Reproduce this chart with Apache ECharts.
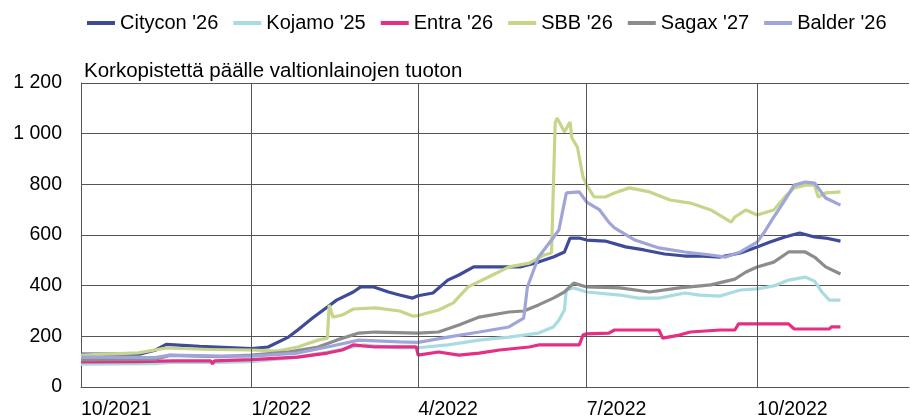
<!DOCTYPE html>
<html>
<head>
<meta charset="utf-8">
<script src="https://cdn.jsdelivr.net/npm/echarts@6/dist/echarts.min.js"></script>
<style>
html, body { margin: 0; padding: 0; background: #fff; }
#mycharts { width: 910px; height: 420px; }
</style>
</head>
<body>
<div id="mycharts"></div>
<script>
var seriesNames = ["Citycon '26", "Kojamo '25", "Entra '26", "SBB '26", "Sagax '27", "Balder '26"];
var seriesColors = ["#3F4A9B", "#A9DCE2", "#E62F84", "#C6D58A", "#8C8C8C", "#A0A5D9"];
var yTicks = [0, 200, 400, 600, 800, 1000, 1200];
var quarterTicks = ["2021-10-01", "2022-01-01", "2022-04-01", "2022-07-01", "2022-10-01"];
var axisStart = "2021-10-01";
var axisEnd = "2022-12-22";

var citycon = [
  ["2021-10-01", 130], ["2021-11-02", 130], ["2021-11-10", 145], ["2021-11-16", 168], ["2021-12-04", 160],
  ["2022-01-01", 152], ["2022-01-10", 158], ["2022-01-21", 197], ["2022-01-26", 225], ["2022-02-03", 272],
  ["2022-02-11", 316], ["2022-02-16", 343], ["2022-02-25", 375], ["2022-03-01", 395], ["2022-03-08", 395],
  ["2022-03-16", 375], ["2022-03-22", 363], ["2022-03-29", 351], ["2022-04-01", 360], ["2022-04-09", 371],
  ["2022-04-17", 422], ["2022-04-23", 442], ["2022-05-01", 474], ["2022-05-15", 474], ["2022-05-26", 474],
  ["2022-06-05", 493], ["2022-06-13", 513], ["2022-06-19", 533], ["2022-06-22", 588], ["2022-06-27", 588],
  ["2022-07-01", 580], ["2022-07-11", 576], ["2022-07-22", 553], ["2022-08-01", 541], ["2022-08-12", 525],
  ["2022-08-23", 517], ["2022-08-31", 517], ["2022-09-11", 513], ["2022-09-22", 529], ["2022-10-01", 553],
  ["2022-10-08", 572], ["2022-10-16", 592], ["2022-10-24", 608], ["2022-11-01", 592], ["2022-11-07", 588],
  ["2022-11-15", 576]
];
var kojamo = [
  ["2021-10-01", 90], ["2021-11-10", 92], ["2021-11-20", 98], ["2021-12-15", 97], ["2022-01-01", 100],
  ["2022-01-26", 118], ["2022-02-11", 138], ["2022-02-22", 154], ["2022-03-02", 166], ["2022-03-22", 154],
  ["2022-04-01", 155], ["2022-04-17", 166], ["2022-05-04", 185], ["2022-05-20", 197], ["2022-06-05", 213],
  ["2022-06-13", 237], ["2022-06-16", 264], ["2022-06-19", 304], ["2022-06-20", 383], ["2022-06-24", 391],
  ["2022-07-01", 375], ["2022-07-19", 363], ["2022-07-29", 351], ["2022-08-09", 351], ["2022-08-23", 371],
  ["2022-08-31", 363], ["2022-09-11", 359], ["2022-09-22", 383], ["2022-10-01", 387], ["2022-10-10", 399],
  ["2022-10-18", 422], ["2022-10-27", 434], ["2022-11-01", 418], ["2022-11-05", 375], ["2022-11-09", 343],
  ["2022-11-15", 343]
];
var entra = [
  ["2021-10-01", 99], ["2021-11-01", 100], ["2021-11-20", 103], ["2021-12-10", 103], ["2021-12-11", 91],
  ["2021-12-12", 103], ["2022-01-01", 108], ["2022-01-26", 118], ["2022-02-11", 134], ["2022-02-19", 146],
  ["2022-02-25", 166], ["2022-03-02", 162], ["2022-03-09", 158], ["2022-03-31", 158], ["2022-04-01", 126],
  ["2022-04-12", 138], ["2022-04-23", 126], ["2022-05-04", 134], ["2022-05-15", 146], ["2022-05-31", 158],
  ["2022-06-05", 166], ["2022-06-27", 166], ["2022-06-29", 205], ["2022-07-01", 210], ["2022-07-13", 213],
  ["2022-07-16", 225], ["2022-08-09", 225], ["2022-08-11", 193], ["2022-08-20", 205], ["2022-08-26", 217],
  ["2022-09-11", 225], ["2022-09-19", 225], ["2022-09-21", 249], ["2022-10-18", 249], ["2022-10-21", 229],
  ["2022-11-09", 229], ["2022-11-10", 237], ["2022-11-15", 237]
];
var sbb = [
  ["2021-10-01", 126], ["2021-11-01", 135], ["2021-11-16", 154], ["2021-12-10", 148], ["2022-01-01", 146],
  ["2022-01-15", 142], ["2022-01-26", 158], ["2022-02-06", 185], ["2022-02-11", 193], ["2022-02-12", 324],
  ["2022-02-14", 276], ["2022-02-19", 284], ["2022-02-25", 308], ["2022-03-09", 312], ["2022-03-22", 300],
  ["2022-03-29", 280], ["2022-04-01", 282], ["2022-04-12", 304], ["2022-04-20", 332], ["2022-04-28", 395],
  ["2022-05-09", 434], ["2022-05-20", 474], ["2022-05-31", 489], ["2022-06-08", 521], ["2022-06-12", 529],
  ["2022-06-14", 1042], ["2022-06-15", 1062], ["2022-06-19", 1007], ["2022-06-22", 1046], ["2022-06-23", 983],
  ["2022-06-26", 947], ["2022-06-29", 829], ["2022-07-01", 797], ["2022-07-05", 750], ["2022-07-11", 750],
  ["2022-07-16", 766], ["2022-07-24", 786], ["2022-08-04", 770], ["2022-08-15", 738], ["2022-08-26", 726],
  ["2022-09-06", 699], ["2022-09-17", 651], ["2022-09-19", 671], ["2022-09-25", 699], ["2022-10-01", 679],
  ["2022-10-10", 699], ["2022-10-16", 750], ["2022-10-21", 786], ["2022-10-27", 797], ["2022-11-01", 797],
  ["2022-11-03", 750], ["2022-11-07", 766], ["2022-11-15", 770]
];
var sagax = [
  ["2021-10-01", 107], ["2021-11-10", 110], ["2021-11-18", 125], ["2021-12-15", 120], ["2022-01-01", 126],
  ["2022-01-21", 138], ["2022-02-06", 158], ["2022-02-16", 185], ["2022-02-28", 213], ["2022-03-09", 217],
  ["2022-04-01", 213], ["2022-04-12", 217], ["2022-04-23", 245], ["2022-05-04", 276], ["2022-05-20", 296],
  ["2022-05-28", 300], ["2022-06-05", 324], ["2022-06-13", 351], ["2022-06-19", 375], ["2022-06-24", 410],
  ["2022-07-01", 395], ["2022-07-19", 391], ["2022-08-04", 375], ["2022-08-20", 391], ["2022-09-06", 403],
  ["2022-09-19", 426], ["2022-09-25", 454], ["2022-10-01", 474], ["2022-10-10", 493], ["2022-10-18", 533],
  ["2022-10-27", 533], ["2022-11-01", 513], ["2022-11-07", 474], ["2022-11-15", 446]
];
var balder = [
  ["2021-10-01", 118], ["2021-11-10", 116], ["2021-11-18", 126], ["2021-12-15", 122], ["2022-01-01", 122],
  ["2022-01-26", 134], ["2022-02-11", 158], ["2022-02-28", 185], ["2022-03-22", 178], ["2022-04-01", 176],
  ["2022-04-17", 197], ["2022-05-04", 217], ["2022-05-20", 237], ["2022-05-28", 272], ["2022-05-30", 395],
  ["2022-06-05", 513], ["2022-06-12", 580], ["2022-06-16", 620], ["2022-06-20", 766], ["2022-06-27", 770],
  ["2022-07-01", 730], ["2022-07-08", 699], ["2022-07-13", 650], ["2022-07-16", 628], ["2022-07-27", 580],
  ["2022-08-09", 549], ["2022-08-23", 533], ["2022-09-06", 521], ["2022-09-14", 513], ["2022-09-22", 533],
  ["2022-10-01", 572], ["2022-10-05", 612], ["2022-10-10", 671], ["2022-10-16", 738], ["2022-10-21", 797],
  ["2022-10-27", 809], ["2022-11-01", 805], ["2022-11-07", 746], ["2022-11-15", 718]
];
var allData = [citycon, kojamo, entra, sbb, sagax, balder];

// local time stamp from "yyyy-mm-dd"
function toTime(s) {
  var p = s.split("-");
  return new Date(+p[0], +p[1] - 1, +p[2]).getTime();
}
var font = "Liberation Sans, Arial, sans-serif";

var myCharts = echarts.init(document.getElementById("mycharts"), null, { renderer: "canvas" });

var series = seriesNames.map(function (name, i) {
  return {
    name: name,
    type: "line",
    data: allData[i].map(function (p) { return [toTime(p[0]), p[1]]; }),
    showSymbol: false,
    symbol: "none",
    z: 3,
    lineStyle: { color: seriesColors[i], width: 3.2 },
    itemStyle: { color: seriesColors[i] }
  };
});
// vertical quarter grid lines
series.push({
  name: "grid",
  type: "line",
  data: [],
  z: 1,
  silent: true,
  markLine: {
    silent: true,
    symbol: ["none", "none"],
    label: { show: false },
    lineStyle: { color: "#555", width: 1, type: "solid" },
    emphasis: { disabled: true },
    data: quarterTicks.slice(1).map(function (q) { return { xAxis: toTime(q) }; })
  }
});

var option = {
  animation: false,
  title: {
    text: "Korkopistettä päälle valtionlainojen tuoton",
    left: 79,
    top: 56,
    textStyle: { fontFamily: font, fontSize: 20.5, fontWeight: "normal", color: "#000" }
  },
  legend: {
    data: seriesNames,
    left: 82,
    top: 8,
    icon: "rect",
    itemWidth: 28,
    itemHeight: 4,
    itemGap: 15,
    textStyle: { fontFamily: font, fontSize: 20, color: "#000" }
  },
  grid: { left: 81, right: 1, top: 83, bottom: 33 },
  xAxis: {
    type: "value",
    min: toTime(axisStart),
    max: toTime(axisEnd),
    axisLine: { show: true, lineStyle: { color: "#555", width: 1 } },
    axisTick: { show: false },
    splitLine: { show: false },
    axisLabel: {
      customValues: quarterTicks.map(toTime),
      align: "left",
      margin: 13,
      fontFamily: font,
      fontSize: 19.5,
      color: "#000",
      formatter: function (v) {
        var d = new Date(v);
        return (d.getMonth() + 1) + "/" + d.getFullYear();
      }
    }
  },
  yAxis: {
    type: "value",
    min: yTicks[0],
    max: yTicks[yTicks.length - 1],
    interval: yTicks[1] - yTicks[0],
    axisLine: { show: true, lineStyle: { color: "#555", width: 1 } },
    axisTick: { show: false },
    splitLine: { show: true, lineStyle: { color: "#555", width: 1 } },
    axisLabel: {
      margin: 19,
      fontFamily: font,
      fontSize: 19.5,
      color: "#000",
      formatter: function (v) {
        return String(v).replace(/\B(?=(\d{3})+(?!\d))/g, " ");
      }
    }
  },
  series: series
};

myCharts.setOption(option);
</script>
</body>
</html>
